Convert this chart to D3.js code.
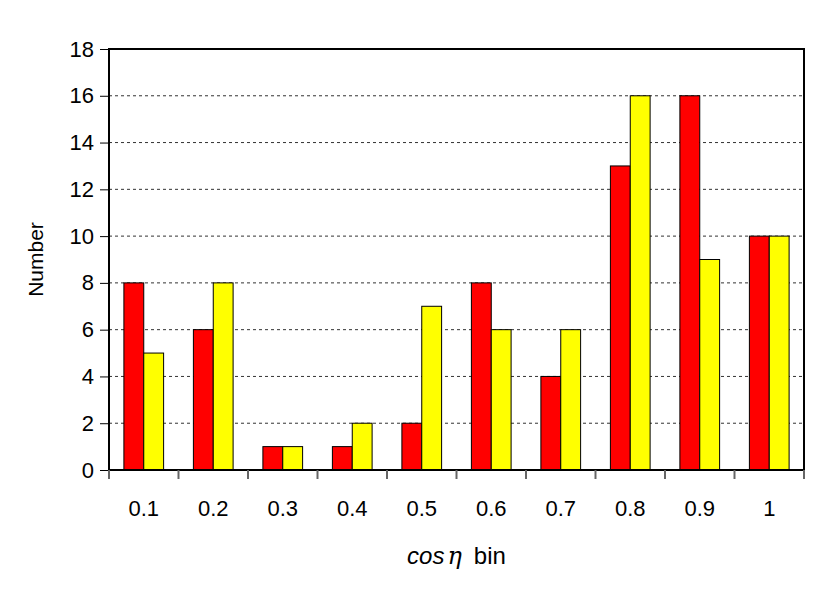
<!DOCTYPE html>
<html>
<head>
<meta charset="utf-8">
<script src="https://cdn.jsdelivr.net/npm/d3@7"></script>
<style>
  body { margin: 0; background: #fff; }
</style>
</head>
<body>
<svg id="chart" width="830" height="596" font-family="Arial, 'Liberation Sans', sans-serif"></svg>
<script>
// data
const bins = ["0.1", "0.2", "0.3", "0.4", "0.5", "0.6", "0.7", "0.8", "0.9", "1"];
const redValues = [8, 6, 1, 1, 2, 8, 4, 13, 16, 10];
const yellowValues = [5, 8, 1, 2, 7, 6, 6, 16, 9, 10];
const yTicks = [0, 2, 4, 6, 8, 10, 12, 14, 16, 18];

const margin = { top: 49, right: 26, bottom: 126, left: 109 };
const width = 830, height = 596;
const innerWidth = width - margin.left - margin.right;
const innerHeight = height - margin.top - margin.bottom;

const svg = d3.select("#chart");
const g = svg.append("g").attr("transform", `translate(${margin.left},${margin.top})`);

const x = d3.scaleBand().domain(bins).range([0, innerWidth]).padding(0);
const y = d3.scaleLinear().domain([0, 18]).range([innerHeight, 0]);

// bar width: two bars + 150% gap
const barW = x.bandwidth() / 3.5;
const offset = (x.bandwidth() - 2 * barW) / 2;

// gridlines
g.selectAll("line.grid")
    .data(yTicks.filter(d => d > 0 && d < 18))
    .enter().append("line")
    .attr("class", "grid")
    .attr("x1", 0).attr("x2", innerWidth)
    .attr("y1", d => y(d)).attr("y2", d => y(d))
    .attr("stroke", "#333")
    .attr("stroke-width", 1)
    .attr("stroke-dasharray", "3,3");

// bars
const series = [
    { values: redValues, color: "#ff0000", shift: 0 },
    { values: yellowValues, color: "#ffff00", shift: 1 }
];
series.forEach(s => {
    g.selectAll(null)
        .data(bins)
        .enter().append("rect")
        .attr("x", d => x(d) + offset + s.shift * barW)
        .attr("y", (d, i) => y(s.values[i]))
        .attr("width", barW)
        .attr("height", (d, i) => y(0) - y(s.values[i]))
        .attr("fill", s.color)
        .attr("stroke", "#000")
        .attr("stroke-width", 1);
});

// frame
g.append("rect")
    .attr("x", 0).attr("y", 0)
    .attr("width", innerWidth).attr("height", innerHeight)
    .attr("fill", "none")
    .attr("stroke", "#000")
    .attr("stroke-width", 2);

// y axis
const yAxis = d3.axisLeft(y).tickValues(yTicks).tickSize(9).tickPadding(6);
g.append("g").call(yAxis)
    .attr("font-family", "Arial, 'Liberation Sans', sans-serif")
    .attr("font-size", 22)
    .call(a => a.select(".domain").remove())
    .call(a => a.selectAll("line").attr("stroke", "#000"))
    .call(a => a.selectAll("text").attr("fill", "#000"));

// x axis: ticks at bin boundaries
const xAxis = d3.axisBottom(x).tickSize(0).tickPadding(30);
g.append("g").attr("transform", `translate(0,${innerHeight})`).call(xAxis)
    .attr("font-family", "Arial, 'Liberation Sans', sans-serif")
    .attr("font-size", 22)
    .call(a => a.select(".domain").remove())
    .call(a => a.selectAll("text").attr("fill", "#000"));

g.selectAll("line.xtick")
    .data(d3.range(bins.length + 1))
    .enter().append("line")
    .attr("class", "xtick")
    .attr("x1", i => i * x.step()).attr("x2", i => i * x.step())
    .attr("y1", innerHeight).attr("y2", innerHeight + 9)
    .attr("stroke", "#666")
    .attr("stroke-width", 2);

// axis titles
svg.append("text")
    .attr("transform", `translate(43,${margin.top + innerHeight / 2}) rotate(-90)`)
    .attr("text-anchor", "middle")
    .attr("font-size", 21)
    .text("Number");

const xt = svg.append("text")
    .attr("x", margin.left + innerWidth / 2)
    .attr("y", 564)
    .attr("text-anchor", "middle")
    .attr("font-size", 24);
xt.append("tspan").attr("font-style", "italic").text("cos");
xt.append("tspan").attr("dx", 3).attr("font-style", "italic").attr("font-family", "'DejaVu Serif', serif").text("η");
xt.append("tspan").attr("dx", 12).text("bin");
</script>
</body>
</html>
